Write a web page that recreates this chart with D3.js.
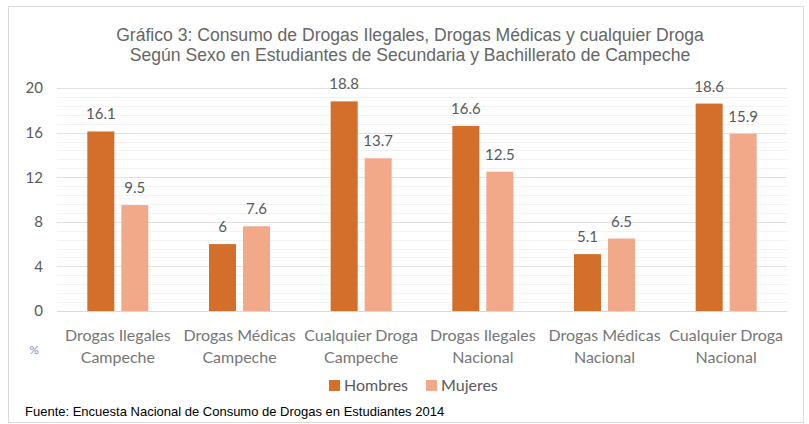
<!DOCTYPE html>
<html>
<head>
<meta charset="utf-8">
<script src="https://cdn.jsdelivr.net/npm/d3@7"></script>
<style>
  body { margin: 0; background: #fff; }
  svg { display: block; }
</style>
</head>
<body>
<svg></svg>
<script>
// data
const categories = [
  ["Drogas Ilegales", "Campeche"],
  ["Drogas Médicas", "Campeche"],
  ["Cualquier Droga", "Campeche"],
  ["Drogas Ilegales", "Nacional"],
  ["Drogas Médicas", "Nacional"],
  ["Cualquier Droga", "Nacional"]
];
const hombres = [16.1, 6, 18.8, 16.6, 5.1, 18.6];
const mujeres = [9.5, 7.6, 13.7, 12.5, 6.5, 15.9];
const seriesNames = ["Hombres", "Mujeres"];
const yTicks = [0, 4, 8, 12, 16, 20];

const colors = ["#d36e2b", "#f1a98a"];
const W = 809, H = 424;
const margin = { top: 88, right: 22, bottom: 113, left: 57 };

let svg = d3.select("svg").attr("width", W).attr("height", H);

// chart border
svg.append("rect")
  .attr("x", 8.5).attr("y", 6.5)
  .attr("width", 795).attr("height", 416)
  .attr("fill", "none").attr("stroke", "#d9d9d9");

let title = svg.append("text")
  .attr("text-anchor", "middle")
  .attr("font-family", "Liberation Sans, Arial, sans-serif")
  .attr("font-size", 17.6)
  .attr("fill", "#666666");
title.append("tspan").attr("x", 410).attr("y", 41)
  .text("Gráfico 3: Consumo de Drogas Ilegales, Drogas Médicas y cualquier Droga");
title.append("tspan").attr("x", 410).attr("y", 61)
  .text("Según Sexo en Estudiantes de Secundaria y Bachillerato de Campeche");

let x0 = d3.scaleBand()
  .domain(d3.range(categories.length))
  .range([margin.left, W - margin.right]);

let y = d3.scaleLinear().domain([0, 20]).range([H - margin.bottom, margin.top]);

let g = svg.append("g");

// minor gridlines
g.selectAll(".minor")
  .data(d3.range(0, 20.01, 0.8))
  .enter().append("line")
  .attr("x1", margin.left).attr("x2", W - margin.right)
  .attr("y1", d => Math.round(y(d)) + 0.5).attr("y2", d => Math.round(y(d)) + 0.5)
  .attr("stroke", "#f2f2f2");

// major gridlines
g.selectAll(".major")
  .data(yTicks)
  .enter().append("line")
  .attr("x1", margin.left).attr("x2", W - margin.right)
  .attr("y1", d => Math.round(y(d)) + 0.5).attr("y2", d => Math.round(y(d)) + 0.5)
  .attr("stroke", d => d === 0 ? "#d9d9d9" : "#e0e0e0");

// y axis labels
let yAxis = svg.append("g")
  .attr("transform", `translate(${margin.left - 14},0)`)
  .call(d3.axisLeft(y).tickValues(yTicks).tickSize(0).tickPadding(0));
yAxis.select(".domain").remove();
yAxis.selectAll("text")
  .attr("font-family", "Lato, sans-serif")
  .attr("font-size", 15)
  .attr("fill", "#595959");

const barW = 27, gap = 7;

let groups = svg.selectAll(".grp")
  .data(categories)
  .enter().append("g")
  .attr("transform", (d, i) => `translate(${x0(i) + x0.bandwidth() / 2},0)`);

[hombres, mujeres].forEach((vals, s) => {
  let off = s === 0 ? -barW - gap / 2 : gap / 2;
  groups.append("rect")
    .attr("x", off)
    .attr("y", (d, i) => y(vals[i]))
    .attr("width", barW)
    .attr("height", (d, i) => y(0) - y(vals[i]))
    .attr("fill", colors[s]);
  groups.append("text")
    .attr("x", off + barW / 2)
    .attr("y", (d, i) => y(vals[i]) - 12)
    .attr("text-anchor", "middle")
    .attr("font-family", "Lato, sans-serif")
    .attr("font-size", 15)
    .attr("fill", "#595959")
    .text((d, i) => vals[i]);
});

// category labels
let cl = groups.append("text")
  .attr("text-anchor", "middle")
  .attr("font-family", "Lato, sans-serif")
  .attr("font-size", 16)
  .attr("fill", "#767676");
cl.append("tspan").attr("x", 0).attr("y", 341).text(d => d[0]);
cl.append("tspan").attr("x", 0).attr("y", 363).text(d => d[1]);

svg.append("text")
  .attr("x", 34).attr("y", 354)
  .attr("text-anchor", "middle")
  .attr("font-family", "Lato, sans-serif")
  .attr("font-size", 12)
  .attr("fill", "#6f8fc8")
  .text("%");

// legend
let legX = [329, 426];
seriesNames.forEach((name, s) => {
  svg.append("rect")
    .attr("x", legX[s]).attr("y", 380)
    .attr("width", 11).attr("height", 11)
    .attr("fill", colors[s]);
  svg.append("text")
    .attr("x", legX[s] + 15).attr("y", 391)
    .attr("font-family", "Lato, sans-serif")
    .attr("font-size", 16)
    .attr("fill", "#595959")
    .text(name);
});

svg.append("text")
  .attr("x", 25).attr("y", 416)
  .attr("font-family", "Liberation Sans, Arial, sans-serif")
  .attr("font-size", 13)
  .attr("fill", "#000")
  .text("Fuente: Encuesta Nacional de Consumo de Drogas en Estudiantes 2014");
</script>
</body>
</html>
